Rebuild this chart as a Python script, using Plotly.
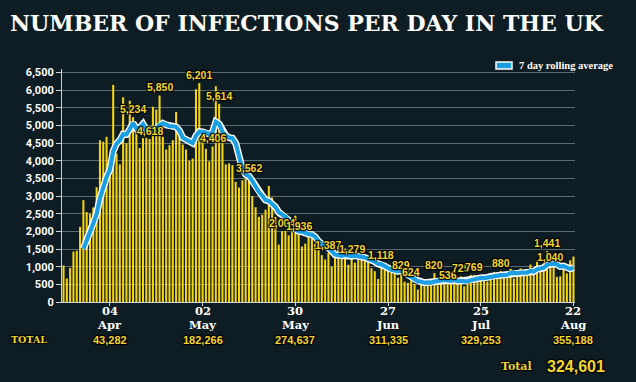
import plotly.graph_objects as go
import pandas as pd

# ---------------- data ----------------
start_date = "2020-03-21"
daily_cases = [
    1035, 665, 967, 1427, 1452, 2129, 2885, 2546, 2500, 2680,          # Mar 21-30
    3250, 4580, 4540, 4680, 4000, 6150, 4200, 3900, 5800, 4500,        # Mar 31-Apr 9
    5700, 5234, 5050, 4360, 4640, 4650, 4618, 5530, 5450, 5850,        # Apr 10-19
    4680, 4320, 4440, 4585, 5386, 4700, 4460, 4320, 4000, 4065,        # Apr 20-29
    6028, 6201, 4650, 4339, 3985, 4406, 6111, 5614, 4649, 3896,        # Apr 30-May 9
    3923, 3877, 3403, 3242, 3446, 3500, 3562, 3000, 2684, 2412,        # May 10-19
    2472, 2615, 3287, 2959, 2409, 1625, 2004, 2013, 1887, 2095,        # May 20-29
    2445, 1936, 1570, 1653, 1871, 1805, 1650, 1557, 1326, 1205,        # May 30-Jun 8
    1387, 1003, 1266, 1541, 1425, 1514, 1056, 1279, 1115, 1218,        # Jun 9-18
    1346, 1295, 1221, 958, 874, 653, 1118, 1006, 890, 901,             # Jun 19-28
    815, 689, 829, 576, 544, 624, 516, 352, 581, 630,                  # Jun 29-Jul 8
    642, 512, 820, 650, 530, 598, 536, 538, 687, 580,                  # Jul 9-18
    725, 445, 560, 768, 769, 767, 747, 685, 581, 763,                  # Jul 19-28
    846, 840, 880, 744, 743, 938, 670, 892, 950, 871,                  # Jul 29-Aug 7
    758, 1062, 816, 1148, 1009, 1100, 1441, 1040, 1012, 713,           # Aug 8-17
    726, 1089, 812, 1182, 1288,                                        # Aug 18-22
]

tick_dates = ["2020-04-04", "2020-05-02", "2020-05-30", "2020-06-27", "2020-07-25", "2020-08-22"]
tick_days = ["04", "02", "30", "27", "25", "22"]
tick_months = ["Apr", "May", "May", "Jun", "Jul", "Aug"]
running_totals = ["43,282", "182,266", "274,637", "311,335", "329,253", "355,188"]
y_ticks = list(range(0, 6501, 500))

labelled_dates = [
    "2020-04-11", "2020-04-16", "2020-04-19", "2020-05-01", "2020-05-05", "2020-05-07",
    "2020-05-16", "2020-05-26", "2020-05-31", "2020-06-09", "2020-06-16", "2020-06-25",
    "2020-07-01", "2020-07-04", "2020-07-11", "2020-07-15", "2020-07-19", "2020-07-23",
    "2020-07-31", "2020-08-14", "2020-08-15",
]
grand_total = "324,601"
title_text = "NUMBER OF INFECTIONS PER DAY IN THE UK"
legend_text = "7 day rolling average"

# ---------------- derived ----------------
dates = pd.date_range(start_date, periods=len(daily_cases), freq="D")
series = pd.Series(daily_cases, index=dates)
rolling = series.rolling(7).mean()

# ---------------- styling ----------------
W, H = 636, 382
ML, MR, MT, MB = 62, 61, 69, 80
PW, PH = W - ML - MR, H - MT - MB
BG = "#0d1d23"
YELLOW = "#f5d414"
LABEL_YELLOW = "#f3d62a"
BLUE = "#1b9fe2"
SLAB = "DejaVu Serif, serif"
TIMES = "Liberation Serif, serif"
SANS = "Liberation Sans, Arial, sans-serif"
SHADOW = "1px 1px 1px #000, -1px -1px 1px #000, 1px -1px 1px #000, -1px 1px 1px #000"


def px_x(px):
    return (px - ML) / PW


def px_y(py):
    return (H - MB - py) / PH


fig = go.Figure()
fig.add_trace(go.Bar(x=dates, y=daily_cases, marker_color=YELLOW,
                     marker_line_width=0, hoverinfo="skip"))
fig.add_trace(go.Scatter(x=dates, y=rolling, mode="lines",
                         line=dict(color="white", width=7), hoverinfo="skip"))
fig.add_trace(go.Scatter(x=dates, y=rolling, mode="lines",
                         line=dict(color=BLUE, width=4.2), hoverinfo="skip"))

annotations = []
for d in labelled_dates:
    v = series[pd.Timestamp(d)]
    annotations.append(dict(
        x=d, y=v, xref="x", yref="y", text=f"{v:,}", showarrow=False,
        yanchor="bottom", xanchor="center",
        font=dict(family=SANS, size=10.5, color=LABEL_YELLOW, weight="bold", shadow=SHADOW)))

for d, day, mon in zip(tick_dates, tick_days, tick_months):
    annotations.append(dict(
        x=d, y=px_y(311), xref="x", yref="paper", text=day, showarrow=False,
        xanchor="center", yanchor="middle",
        font=dict(family=SLAB, size=11.5, color="white", weight="bold")))
    annotations.append(dict(
        x=d, y=px_y(324.5), xref="x", yref="paper", text=mon, showarrow=False,
        xanchor="center", yanchor="middle",
        font=dict(family=SLAB, size=11.5, color="white", weight="bold")))

for d, t in zip(tick_dates, running_totals):
    annotations.append(dict(
        x=d, y=px_y(339.5), xref="x", yref="paper", text=t, showarrow=False,
        xanchor="center", yanchor="middle",
        font=dict(family=SANS, size=11, color=LABEL_YELLOW, weight="bold", shadow=SHADOW)))

annotations.append(dict(
    x=px_x(28.5), y=px_y(339.5), xref="paper", yref="paper", text="TOTAL", showarrow=False,
    xanchor="center", yanchor="middle",
    font=dict(family=SLAB, size=9.5, color=LABEL_YELLOW, weight="bold", shadow=SHADOW)))
annotations.append(dict(
    x=px_x(534), y=px_y(366.5), xref="paper", yref="paper", text="Total", showarrow=False,
    xanchor="right", yanchor="middle",
    font=dict(family=SLAB, size=11, color=LABEL_YELLOW, weight="bold", shadow=SHADOW)))
annotations.append(dict(
    x=px_x(545), y=px_y(366), xref="paper", yref="paper", text=grand_total, showarrow=False,
    xanchor="left", yanchor="middle",
    font=dict(family=SANS, size=16, color=LABEL_YELLOW, weight="bold", shadow=SHADOW)))
annotations.append(dict(
    x=px_x(517), y=px_y(65.5), xref="paper", yref="paper", text=legend_text, showarrow=False,
    xanchor="left", yanchor="middle",
    font=dict(family=TIMES, size=10.5, color="white", weight="bold")))

shapes = [dict(type="rect", xref="paper", yref="paper",
               x0=px_x(496), x1=px_x(512), y0=px_y(69), y1=px_y(62),
               fillcolor=BLUE, line=dict(color="white", width=1.5))]

fig.update_layout(
    width=W, height=H,
    margin=dict(l=ML, r=MR, t=MT, b=MB),
    paper_bgcolor=BG, plot_bgcolor=BG,
    showlegend=False,
    bargap=0.38,
    title=dict(text=title_text, x=10 / W, xanchor="left", xref="container",
               y=1 - 23 / H, yanchor="middle", yref="container",
               font=dict(family=SLAB, size=22, color="white", weight="bold")),
    xaxis=dict(
        type="date",
        range=[dates[0] - pd.Timedelta(hours=11), dates[-1] + pd.Timedelta(hours=11)],
        tickvals=tick_dates, showticklabels=False,
        showgrid=False, showline=True, linecolor="#d0d4d6", linewidth=1,
        ticks="outside", ticklen=3, tickcolor="#d0d4d6", zeroline=False,
    ),
    yaxis=dict(
        range=[0, 6600], tickvals=y_ticks, tickformat=",",
        tickfont=dict(family="Roboto, sans-serif", size=11, color="white", weight="bold"),
        showgrid=True, gridcolor="#5c6b70", gridwidth=1,
        showline=True, linecolor="#d0d4d6", linewidth=1,
        ticks="outside", ticklen=5, tickcolor="#d0d4d6", zeroline=False,
    ),
    annotations=annotations,
    shapes=shapes,
)

fig.write_html("out.html", config={"displayModeBar": False},
               post_script="document.body.style.margin='0';document.body.style.overflow='hidden';")
